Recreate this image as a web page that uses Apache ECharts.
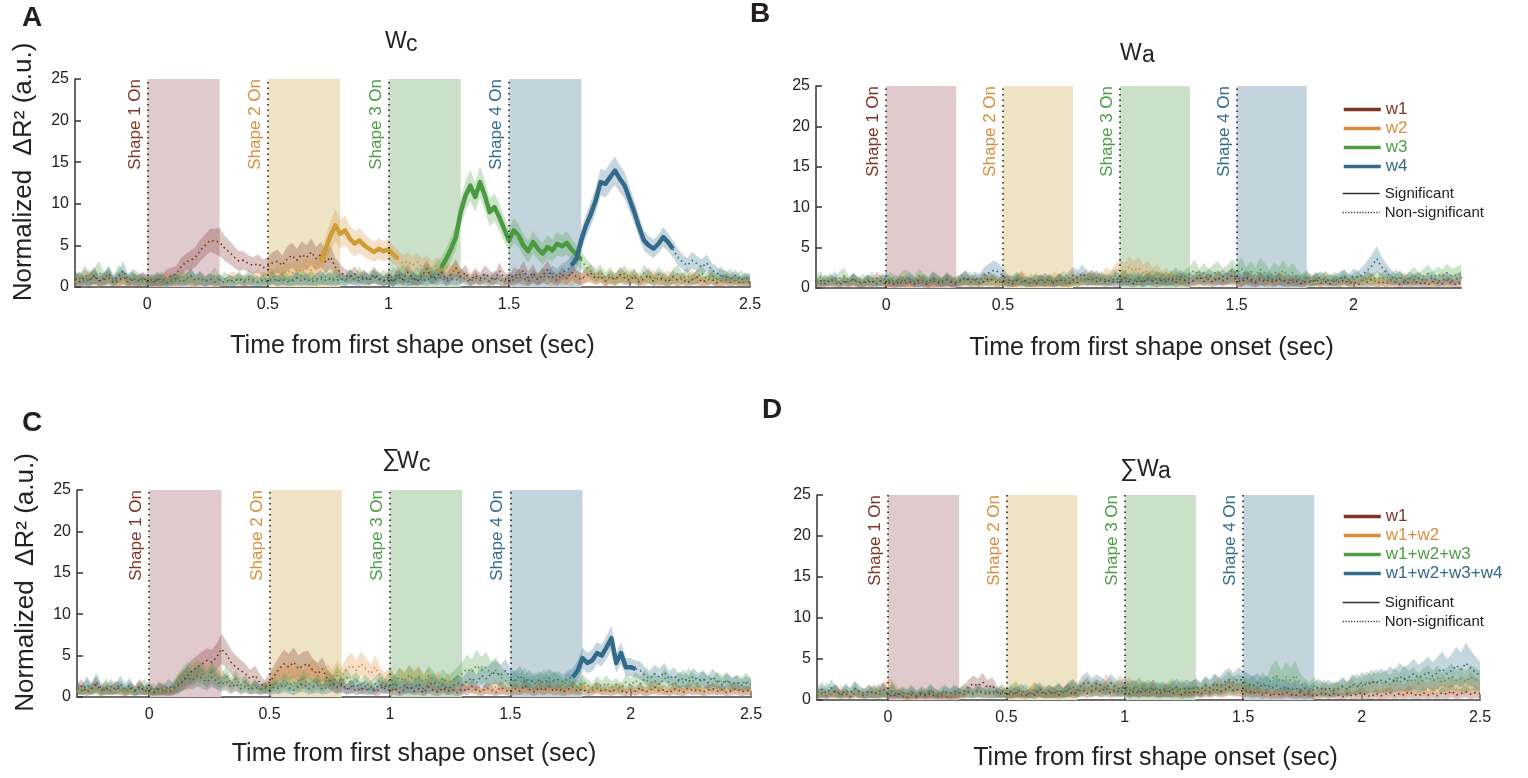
<!DOCTYPE html>
<html><head><meta charset="utf-8">
<script src="https://cdn.jsdelivr.net/npm/echarts@6/dist/echarts.min.js"></script>
<style>html,body{margin:0;padding:0;background:#fff}#c{width:1528px;height:778px}</style>
</head><body><div id="c"></div><script>
const FONT = '"Liberation Sans", Arial, Helvetica, sans-serif';
const COLORS = ['#7E3427','#D98E3C','#4E9C45','#346A8A'];
const SIG_COLORS = ['#7E3427','#CF9C36','#4A9A40','#336A8A'];
const SHAPE_FILL = ['#E0CACE','#EEE3C4','#CBE0C9','#C3D4DD'];
const SHAPE_ON = [0,0.5,1,1.5];
const SHAPE_DUR = 0.3;
const SHAPE_LABELS = ['Shape 1 On','Shape 2 On','Shape 3 On','Shape 4 On'];
const X_TICKS = [0,0.5,1,1.5,2,2.5];
const X_TICKS_B = [0,0.5,1,1.5,2];
const X_NAME = 'Time from first shape onset (sec)';
const Y_NAME = 'Normalized  \u0394R\u00B2 (a.u.)';
const LEGEND_AB = ['w1','w2','w3','w4'];
const LEGEND_CD = ['w1','w1+w2','w1+w2+w3','w1+w2+w3+w4'];
const LEGEND_SIG = ['Significant','Non-significant'];
// time axis: -0.30 .. 2.50 every 0.02 s
const T0 = -0.3, DT = 0.02, N = 141;
const TIME = Array.from({length:N}, (_, i) => +(T0 + DT*i).toFixed(2));

// ---------- Panel A (Wc) ----------
const A_w1 = [1.0,0.6,1.2,0.8,1.4,0.7,0.9,1.1,0.5,0.8, 1.2,0.6,0.9,0.7,1.0,0.8,0.5,0.9,0.7,1.2, 1.3,1.6,2.4,3.0,3.2,3.6,4.4,5.0,5.6,5.5, 5.4,4.7,4.2,3.6,3.1,3.2,2.8,2.6,2.8,2.3, 2.5,2.9,3.1,2.6,3.4,3.8,3.2,3.9,3.5,4.2, 3.4,3.9,3.0,3.6,2.4,1.8,1.4,1.2,1.6,1.0, 1.3,0.8,1.5,1.1,0.7,1.2,0.6,1.6,0.9,1.8, 1.1,0.7,1.4,2.2,1.0,1.3,1.8,0.9,1.5,2.3, 1.2,1.7,0.8,1.4,1.0,1.6,1.2,0.8,1.9,1.1, 0.7,1.5,1.3,2.0,1.1,1.7,0.9,1.4,2.1,1.2, 0.8,1.5,1.0,1.8,1.2,0.9,1.4,1.7,1.0,1.3, 0.7,1.2,0.9,1.5,1.1,0.8,1.3,0.6,1.0,1.4, 0.7,1.1,0.9,0.6,1.2,0.8,1.0,0.5,0.9,1.2, 0.6,0.8,1.0,0.5,0.7,0.9,0.6,0.8,0.5,0.7, 0.6];
const A_w1_sem = [0.8,0.7,0.9,0.8,1.0,0.7,0.8,0.9,0.6,0.8, 0.9,0.7,0.8,0.7,0.8,0.7,0.6,0.8,0.7,0.9, 1.0,0.9,1.1,1.0,1.2,1.2,1.3,1.3,1.4,1.5, 1.7,1.5,1.4,1.3,1.2,1.1,1.0,1.0,1.1,1.0, 1.1,1.3,1.4,1.2,1.5,1.5,1.4,1.6,1.5,1.6, 1.4,1.5,1.3,1.4,1.1,0.9,0.8,0.7,0.9,0.7, 0.8,0.6,0.9,0.7,0.6,0.8,0.6,0.9,0.7,1.0, 0.8,0.6,0.9,1.1,0.7,0.8,1.0,0.7,0.9,1.1, 0.8,1.0,0.7,0.9,0.7,1.0,0.8,0.7,1.0,0.8, 0.6,0.9,0.8,1.1,0.8,1.0,0.7,0.9,1.1,0.8, 0.7,0.9,0.8,1.0,0.8,0.7,0.9,1.0,0.7,0.8, 0.6,0.8,0.7,0.9,0.8,0.6,0.8,0.6,0.7,0.9, 0.6,0.8,0.7,0.6,0.8,0.7,0.7,0.5,0.7,0.8, 0.5,0.6,0.7,0.5,0.6,0.7,0.5,0.6,0.5,0.6, 0.5];
const A_w2 = [0.6,1.0,0.7,1.3,0.8,0.5,0.9,1.2,0.7,0.6, 1.0,0.8,0.5,0.9,0.7,0.6,0.9,0.5,0.8,1.1, 0.6,0.9,0.7,1.2,0.8,0.5,0.9,0.7,1.0,0.6, 0.8,0.5,0.9,1.1,0.7,0.9,0.6,1.0,1.3,0.8, 1.5,1.1,1.8,1.4,2.0,1.6,2.2,1.8,2.4,2.0, 2.4,3.0,4.6,6.2,7.4,6.4,6.8,5.8,5.2,5.6, 5.0,4.6,4.2,4.6,4.3,4.5,3.9,3.4,2.8,3.1, 2.6,3.0,2.4,2.8,2.2,2.6,2.0,2.4,1.7,2.1, 1.5,1.2,0.8,1.1,0.7,0.9,0.6,1.2,0.8,0.5, 1.0,0.7,1.3,0.9,0.6,1.1,0.8,1.4,0.9,0.6, 1.2,0.8,1.0,0.7,1.3,0.9,1.5,1.1,0.8,1.3, 0.7,1.0,0.6,1.2,0.9,1.4,0.8,1.1,0.6,1.0, 1.3,0.7,0.9,1.2,0.8,0.6,1.0,0.8,1.2,0.7, 0.9,0.5,1.1,0.8,0.6,1.0,0.7,0.9,0.6,0.8, 0.7];
const A_w2_sem = [0.7,0.8,0.6,0.9,0.7,0.5,0.7,0.8,0.6,0.6, 0.8,0.7,0.5,0.7,0.6,0.5,0.7,0.5,0.7,0.8, 0.6,0.7,0.6,0.8,0.7,0.5,0.7,0.6,0.7,0.6, 0.7,0.5,0.7,0.8,0.6,0.7,0.6,0.8,0.9,0.7, 1.0,0.8,1.1,0.9,1.1,1.0,1.2,1.1,1.3,1.2, 1.2,1.3,1.5,1.7,1.9,1.7,1.8,1.6,1.5,1.5, 1.4,1.3,1.2,1.3,1.2,1.2,1.1,1.1,1.0,1.1, 1.0,1.1,1.0,1.1,0.9,1.0,0.9,1.0,0.8,0.9, 0.8,0.7,0.6,0.7,0.6,0.7,0.5,0.7,0.6,0.5, 0.7,0.6,0.8,0.7,0.5,0.7,0.6,0.8,0.7,0.5, 0.8,0.6,0.7,0.6,0.8,0.7,0.9,0.7,0.6,0.8, 0.6,0.7,0.5,0.8,0.7,0.9,0.6,0.7,0.5,0.7, 0.8,0.6,0.7,0.8,0.6,0.5,0.7,0.6,0.8,0.6, 0.7,0.5,0.8,0.6,0.5,0.7,0.6,0.7,0.5,0.6, 0.6];
const A_w3 = [1.2,0.8,1.5,0.9,1.3,1.8,1.0,1.4,0.7,1.6, 1.1,0.8,1.3,1.0,0.7,0.9,0.6,1.1,0.8,0.5, 1.0,0.7,1.3,0.9,1.2,0.8,1.1,0.6,0.9,1.4, 0.7,1.0,0.8,0.6,1.1,0.7,1.2,0.9,0.6,1.0, 0.8,1.3,0.7,1.1,0.9,0.6,1.0,1.4,0.8,1.1, 0.7,0.9,1.2,0.8,1.3,1.0,0.7,1.2,0.9,1.5, 0.8,1.1,1.3,0.9,1.2,0.8,1.4,1.0,1.7,1.2, 0.9,1.5,1.1,1.8,1.3,2.0,2.4,3.4,4.6,6.0, 9.0,11.0,12.2,10.8,12.6,11.0,9.0,9.6,8.4,7.0, 5.6,6.8,6.2,5.0,4.3,5.4,4.6,4.0,4.8,4.4, 5.2,4.9,5.3,4.5,3.9,3.3,2.4,1.9,1.4,1.8, 1.1,1.5,0.9,1.3,1.6,1.0,1.4,0.8,1.7,1.2, 0.9,1.5,1.1,0.7,1.3,1.6,1.0,1.4,0.8,1.2, 1.7,1.0,1.4,0.9,1.5,1.1,1.3,0.8,1.2,0.9, 1.0];
const A_w3_sem = [0.9,0.7,1.1,0.8,1.0,1.3,0.8,1.0,0.6,1.1, 0.8,0.7,0.9,0.8,0.6,0.7,0.5,0.8,0.7,0.5, 0.8,0.6,0.9,0.7,0.9,0.7,0.8,0.5,0.7,1.0, 0.6,0.8,0.7,0.5,0.8,0.6,0.9,0.7,0.5,0.8, 0.7,0.9,0.6,0.8,0.7,0.5,0.8,1.0,0.7,0.8, 0.6,0.7,0.9,0.7,0.9,0.8,0.6,0.9,0.7,1.0, 0.7,0.8,0.9,0.7,0.9,0.7,1.0,0.8,1.1,0.9, 0.8,1.0,0.9,1.1,1.0,1.1,1.2,1.3,1.4,1.5, 1.7,1.8,1.9,1.8,1.9,1.8,1.7,1.7,1.6,1.5, 1.4,1.5,1.4,1.3,1.3,1.4,1.3,1.3,1.4,1.3, 1.4,1.3,1.4,1.3,1.2,1.1,1.0,0.9,0.8,0.9, 0.7,0.9,0.7,0.8,1.0,0.7,0.9,0.6,1.0,0.8, 0.7,0.9,0.8,0.6,0.9,1.0,0.7,0.9,0.6,0.8, 1.0,0.7,0.9,0.7,1.0,0.8,0.9,0.6,0.8,0.7, 0.7];
const A_w4 = [0.8,1.1,0.6,0.9,1.3,0.7,1.0,1.6,0.8,1.2, 2.0,0.9,1.1,0.7,1.0,0.6,0.9,0.7,1.1,0.5, 0.8,1.0,0.6,0.9,1.4,0.8,1.1,0.7,1.0,0.6, 0.9,0.5,0.8,0.7,1.0,0.6,0.9,0.7,0.5,0.8, 0.6,1.0,0.7,0.9,0.6,0.8,1.1,0.7,1.0,0.6, 0.9,1.2,0.8,1.1,0.7,1.0,0.8,1.3,0.9,0.7, 1.1,0.8,1.2,0.9,0.7,1.0,0.7,1.2,0.9,0.6, 1.1,0.8,1.0,0.7,1.3,0.9,1.2,0.7,1.0,0.8, 1.3,0.9,0.6,1.1,0.8,1.0,0.7,1.2,0.9,0.6, 1.1,0.8,1.3,1.0,0.7,1.2,0.9,1.4,1.1,1.6, 1.3,1.8,2.0,2.6,3.4,5.6,7.4,8.8,10.4,12.6, 12.4,13.2,14.0,13.0,12.2,10.6,9.0,7.2,5.6,5.0, 4.6,5.2,6.0,5.4,4.6,3.6,3.0,2.6,3.2,2.8, 2.4,2.9,2.1,1.7,1.4,1.2,1.0,1.4,0.8,1.1, 0.9];
const A_w4_sem = [0.6,0.8,0.5,0.7,0.9,0.6,0.7,1.0,0.6,0.8, 1.1,0.7,0.8,0.6,0.7,0.5,0.7,0.6,0.8,0.5, 0.6,0.7,0.5,0.7,0.9,0.6,0.8,0.6,0.7,0.5, 0.7,0.5,0.6,0.6,0.7,0.5,0.7,0.6,0.5,0.6, 0.5,0.7,0.6,0.7,0.5,0.6,0.8,0.6,0.7,0.5, 0.7,0.8,0.6,0.8,0.6,0.7,0.6,0.9,0.7,0.6, 0.8,0.6,0.8,0.7,0.6,0.7,0.6,0.8,0.7,0.5, 0.8,0.6,0.7,0.6,0.9,0.7,0.8,0.6,0.7,0.6, 0.9,0.7,0.5,0.8,0.6,0.7,0.6,0.8,0.7,0.5, 0.8,0.6,0.9,0.7,0.6,0.8,0.7,0.9,0.8,1.0, 0.9,1.0,1.1,1.1,1.2,1.3,1.4,1.5,1.5,1.6, 1.6,1.7,1.7,1.6,1.6,1.5,1.4,1.3,1.2,1.1, 1.1,1.1,1.2,1.1,1.0,1.0,0.9,0.9,1.0,0.9, 0.9,1.0,0.8,0.8,0.7,0.7,0.6,0.7,0.5,0.6, 0.5];
const A_SIG = [null, [0.72,1.04], [1.22,1.80], [1.76,2.18]];

// ---------- Panel B (Wa) ----------
const B_w1 = [0.6,0.9,0.5,1.0,0.7,0.4,0.8,0.6,1.1,0.7, 0.5,0.9,0.6,1.2,0.8,0.5,0.7,0.4,0.9,0.6, 0.8,0.5,1.0,0.7,0.4,0.9,0.6,0.8,1.1,0.7, 0.5,0.9,1.3,0.7,1.0,0.6,0.8,1.2,0.9,0.6, 1.0,0.7,0.5,0.9,1.2,0.6,0.8,0.5,1.0,0.7, 0.9,0.6,1.1,0.8,0.5,1.0,0.7,1.2,0.9,1.3, 0.8,1.1,0.7,1.0,0.6,0.9,1.3,0.8,0.5,1.0, 0.7,1.2,0.9,0.6,1.0,0.8,1.3,0.7,1.1,0.9, 0.6,1.0,1.4,0.8,1.1,0.7,1.3,0.9,1.2,1.5, 1.0,0.7,1.2,0.9,0.6,1.1,0.8,1.0,0.7,1.2, 0.9,0.6,1.0,0.8,0.5,0.9,0.7,1.1,0.6,0.8, 0.5,0.9,0.7,1.0,0.6,0.8,0.4,0.9,0.7,1.1, 0.6,0.8,0.5,1.0,0.7,0.4,0.8,0.6,0.9,0.5, 0.7,0.4,0.8,0.6,0.5,0.9,0.6,0.4,0.7,0.5, 0.6];
const B_w1_sem = [0.5,0.7,0.4,0.7,0.6,0.4,0.6,0.5,0.8,0.6, 0.4,0.7,0.5,0.8,0.6,0.4,0.6,0.4,0.7,0.5, 0.6,0.4,0.7,0.6,0.4,0.7,0.5,0.6,0.8,0.6, 0.5,0.7,0.9,0.6,0.7,0.5,0.6,0.8,0.7,0.5, 0.7,0.6,0.4,0.7,0.8,0.5,0.6,0.4,0.7,0.6, 0.7,0.5,0.8,0.6,0.4,0.7,0.6,0.8,0.7,0.9, 0.6,0.8,0.6,0.7,0.5,0.7,0.9,0.6,0.4,0.7, 0.6,0.8,0.7,0.5,0.7,0.6,0.9,0.6,0.8,0.7, 0.5,0.7,0.9,0.6,0.8,0.6,0.9,0.7,0.8,1.0, 0.7,0.6,0.8,0.7,0.5,0.8,0.6,0.7,0.6,0.8, 0.7,0.5,0.7,0.6,0.4,0.7,0.6,0.8,0.5,0.6, 0.4,0.7,0.6,0.7,0.5,0.6,0.4,0.7,0.6,0.8, 0.5,0.6,0.4,0.7,0.6,0.4,0.6,0.5,0.7,0.4, 0.6,0.4,0.6,0.5,0.4,0.7,0.5,0.4,0.6,0.4, 0.5];
const B_w2 = [0.7,0.4,0.9,0.6,0.8,0.5,1.0,0.7,0.4,0.8, 0.6,0.9,0.5,0.7,1.0,0.6,0.8,0.5,0.9,0.7, 0.5,0.8,0.6,1.0,0.7,0.4,0.9,0.6,0.8,0.5, 1.0,0.7,0.5,0.9,0.6,0.8,1.1,0.7,0.9,0.6, 1.2,0.8,1.0,0.7,1.3,0.9,0.6,1.1,0.8,1.0, 0.7,1.2,0.9,0.6,1.0,1.3,0.8,1.1,1.4,1.0, 1.3,0.9,1.6,1.2,1.8,2.4,1.9,2.6,2.1,2.5, 1.8,2.2,1.5,1.9,1.2,1.6,1.0,1.4,0.9,1.2, 0.8,1.1,0.7,1.3,0.9,1.0,1.4,0.8,1.2,0.9, 1.1,0.7,1.0,1.3,0.8,1.2,0.9,0.6,1.0,0.8, 1.2,0.7,0.9,0.6,1.0,0.8,1.1,0.7,0.9,1.2, 0.8,1.0,0.6,0.9,1.1,0.7,1.0,0.8,1.3,0.9, 0.7,1.1,0.8,0.6,1.0,0.9,1.2,0.7,0.9,1.1, 0.8,1.0,0.6,0.9,1.2,0.7,1.0,0.8,1.1,0.9, 0.8];
const B_w2_sem = [0.6,0.4,0.7,0.5,0.6,0.4,0.7,0.6,0.4,0.6, 0.5,0.7,0.4,0.6,0.7,0.5,0.6,0.4,0.7,0.6, 0.4,0.6,0.5,0.7,0.6,0.4,0.7,0.5,0.6,0.4, 0.7,0.6,0.4,0.7,0.5,0.6,0.8,0.6,0.7,0.5, 0.8,0.6,0.7,0.6,0.9,0.7,0.5,0.8,0.6,0.7, 0.6,0.8,0.7,0.5,0.7,0.9,0.6,0.8,1.0,0.7, 0.9,0.7,1.0,0.9,1.1,1.3,1.1,1.4,1.2,1.3, 1.1,1.2,1.0,1.1,0.8,1.0,0.7,0.9,0.7,0.8, 0.6,0.8,0.6,0.9,0.7,0.7,0.9,0.6,0.8,0.7, 0.8,0.6,0.7,0.9,0.6,0.8,0.7,0.5,0.7,0.6, 0.8,0.6,0.7,0.5,0.7,0.6,0.8,0.6,0.7,0.8, 0.6,0.7,0.5,0.7,0.8,0.6,0.7,0.6,0.9,0.7, 0.6,0.8,0.6,0.5,0.7,0.7,0.8,0.6,0.7,0.8, 0.6,0.7,0.5,0.7,0.8,0.6,0.7,0.6,0.8,0.7, 0.6];
const B_w3 = [0.9,1.3,0.7,1.1,0.8,1.2,1.5,0.9,1.1,0.7, 1.0,0.8,1.2,0.6,1.0,0.9,1.3,0.7,1.1,1.4, 1.2,0.9,1.5,1.1,0.8,1.3,1.0,0.7,1.2,0.9, 0.8,1.1,0.9,1.3,0.7,1.0,1.2,0.8,1.1,0.9, 0.7,1.0,0.8,1.2,0.9,0.6,1.1,0.8,1.0,0.7, 1.1,0.8,1.0,1.3,0.9,0.7,1.2,0.9,1.1,1.4, 1.0,1.3,0.9,1.2,1.5,1.1,1.4,1.0,1.3,0.9, 1.2,1.0,1.4,1.1,1.3,0.9,1.2,1.6,1.1,1.4, 1.7,2.2,1.5,1.9,1.4,1.8,2.0,1.5,1.7,2.2, 1.8,2.4,1.6,2.1,1.5,2.3,1.9,1.4,2.0,1.6, 2.2,1.5,1.9,1.3,1.1,1.4,0.9,1.2,1.0,1.3, 0.9,1.2,1.0,1.4,0.8,1.1,1.3,0.9,1.2,1.0, 1.3,1.1,1.5,1.0,1.4,1.2,0.9,1.3,1.6,1.1, 1.5,1.8,1.3,1.7,1.4,1.9,1.5,1.6,1.8,1.4, 1.5];
const B_w3_sem = [0.6,0.8,0.5,0.7,0.6,0.8,1.0,0.6,0.7,0.5, 0.7,0.6,0.8,0.5,0.7,0.6,0.8,0.5,0.7,0.9, 0.8,0.6,0.9,0.7,0.6,0.8,0.7,0.5,0.8,0.6, 0.6,0.7,0.6,0.8,0.5,0.7,0.8,0.6,0.7,0.6, 0.5,0.7,0.6,0.8,0.6,0.5,0.7,0.6,0.7,0.5, 0.7,0.6,0.7,0.8,0.6,0.5,0.8,0.6,0.7,0.9, 0.7,0.8,0.6,0.8,0.9,0.7,0.9,0.7,0.8,0.6, 0.8,0.7,0.9,0.7,0.8,0.6,0.8,1.0,0.7,0.9, 1.0,1.3,0.9,1.2,0.9,1.1,1.3,1.0,1.1,1.4, 1.1,1.4,1.0,1.3,1.0,1.4,1.2,0.9,1.2,1.0, 1.3,1.0,1.2,0.9,0.7,0.9,0.6,0.8,0.7,0.8, 0.6,0.8,0.7,0.9,0.6,0.7,0.8,0.6,0.8,0.7, 0.8,0.7,0.9,0.7,0.9,0.8,0.6,0.8,1.0,0.7, 0.9,1.1,0.8,1.0,0.9,1.1,0.9,1.0,1.1,0.9, 0.9];
const B_w4 = [0.8,0.5,1.0,0.7,1.3,0.6,0.9,0.7,1.1,0.8, 0.6,1.0,0.8,0.5,0.9,1.2,0.7,1.0,0.6,0.9, 1.1,0.8,0.6,1.0,0.7,1.2,0.9,0.6,1.0,0.8, 0.7,1.0,1.3,0.9,1.2,1.0,1.6,1.9,2.2,2.0, 1.5,1.0,0.8,1.1,0.7,0.9,0.6,1.0,0.8,1.1, 0.9,0.7,1.0,0.8,1.2,1.6,1.3,1.8,1.2,1.0, 1.3,0.9,1.1,0.8,1.2,1.0,0.7,1.1,0.9,1.2, 0.8,1.1,0.9,1.3,1.0,1.2,0.8,1.1,1.4,1.0, 1.2,0.9,1.3,1.1,1.5,1.2,1.0,1.4,1.1,1.6, 1.3,1.0,1.4,1.1,0.8,1.2,1.0,1.3,0.9,1.1, 0.8,1.1,0.7,1.0,0.9,1.2,0.8,1.0,1.3,0.9, 1.1,0.8,1.2,1.4,1.0,1.5,1.3,1.7,2.2,2.8, 3.6,2.6,1.9,1.4,1.1,1.3,0.9,1.2,1.0,1.3, 0.9,1.1,1.3,0.8,1.0,1.2,0.9,1.1,1.3,1.0, 1.0];
const B_w4_sem = [0.6,0.4,0.7,0.5,0.8,0.5,0.6,0.5,0.7,0.6, 0.5,0.7,0.6,0.4,0.6,0.8,0.5,0.7,0.5,0.6, 0.7,0.6,0.5,0.7,0.5,0.8,0.6,0.5,0.7,0.6, 0.5,0.7,0.9,0.6,0.8,0.7,1.0,1.1,1.2,1.1, 1.0,0.7,0.6,0.8,0.5,0.6,0.5,0.7,0.6,0.8, 0.6,0.5,0.7,0.6,0.8,1.0,0.9,1.1,0.8,0.7, 0.8,0.6,0.7,0.6,0.8,0.7,0.5,0.7,0.6,0.8, 0.6,0.7,0.6,0.8,0.7,0.8,0.6,0.7,0.9,0.7, 0.8,0.6,0.8,0.7,0.9,0.8,0.7,0.9,0.7,1.0, 0.8,0.7,0.9,0.7,0.6,0.8,0.7,0.8,0.6,0.7, 0.6,0.7,0.5,0.7,0.6,0.8,0.6,0.7,0.8,0.6, 0.7,0.6,0.8,0.9,0.7,0.9,0.8,1.0,1.2,1.4, 1.6,1.3,1.1,0.9,0.7,0.8,0.6,0.8,0.7,0.8, 0.6,0.7,0.8,0.6,0.7,0.8,0.6,0.7,0.8,0.7, 0.7];
const B_SIG = [null, null, null, null];

// ---------- Panel C (sum Wc) ----------
const C_w1 = [0.9,1.3,0.6,1.0,1.5,0.8,1.1,0.7,1.2,0.9, 0.6,1.0,0.8,1.3,0.7,0.9,0.5,1.1,0.8,0.6, 0.9,1.4,2.0,2.6,3.2,3.6,4.0,4.4,4.2,4.8, 5.8,5.2,4.2,3.6,3.2,2.8,2.2,2.6,1.7,1.2, 1.8,2.6,3.4,4.0,3.6,4.2,3.4,3.8,4.0,3.2, 2.8,3.4,2.2,1.8,1.2,1.6,0.9,1.3,0.7,1.1, 0.8,1.2,0.6,1.0,1.4,0.7,1.1,0.5,0.9,1.3, 0.7,1.0,0.5,1.2,0.8,0.6,1.1,0.7,0.9,0.5, 1.0,0.7,1.3,0.8,0.6,1.1,0.9,0.5,1.2,0.8, 0.6,1.0,0.7,1.4,0.9,0.6,1.1,0.8,1.3,0.7, 1.0,0.6,0.9,1.2,0.7,1.0,0.5,0.8,1.1,0.7, 0.9,0.6,1.0,0.8,0.5,0.9,0.7,1.1,0.6,0.8, 1.2,0.7,0.9,0.5,1.0,0.8,0.6,1.1,0.7,0.9, 0.6,0.8,1.0,0.7,0.9,0.5,0.8,1.0,0.6,0.8, 0.7];
const C_w1_sem = [0.7,0.9,0.5,0.7,1.0,0.6,0.8,0.5,0.8,0.7, 0.5,0.7,0.6,0.9,0.5,0.7,0.4,0.8,0.6,0.5, 0.7,1.0,1.2,1.3,1.4,1.4,1.5,1.5,1.5,1.6, 1.8,1.6,1.5,1.4,1.3,1.2,1.1,1.2,1.0,0.8, 1.1,1.3,1.5,1.7,1.6,1.8,1.6,1.7,1.6,1.4, 1.3,1.4,1.1,1.0,0.8,0.9,0.6,0.8,0.5,0.7, 0.6,0.8,0.5,0.7,0.9,0.5,0.8,0.4,0.6,0.8, 0.5,0.7,0.4,0.8,0.6,0.5,0.7,0.5,0.6,0.4, 0.7,0.5,0.8,0.6,0.5,0.7,0.6,0.4,0.8,0.6, 0.5,0.7,0.5,0.9,0.6,0.5,0.7,0.6,0.8,0.5, 0.7,0.5,0.6,0.8,0.5,0.7,0.4,0.6,0.7,0.5, 0.6,0.5,0.7,0.6,0.4,0.6,0.5,0.7,0.5,0.6, 0.8,0.5,0.6,0.4,0.7,0.6,0.5,0.7,0.5,0.6, 0.5,0.6,0.7,0.5,0.6,0.4,0.6,0.7,0.5,0.6, 0.5];
const C_w2 = [0.7,1.0,0.6,0.9,1.2,0.5,0.8,1.1,0.7,0.9, 0.6,0.8,0.5,1.0,0.7,0.9,0.6,0.8,1.1,0.7, 1.0,1.6,2.2,1.8,2.8,2.4,3.0,2.2,2.8,2.0, 2.4,1.6,1.2,1.8,1.0,1.4,0.9,1.2,0.8,1.0, 1.4,2.0,2.6,2.2,3.0,2.4,2.8,2.0,2.6,3.2, 2.6,2.0,2.8,2.2,3.0,2.4,3.4,3.8,3.2,4.0, 3.4,2.8,3.6,2.4,2.0,2.6,1.8,2.4,2.0,2.8, 2.2,2.6,1.8,2.4,1.6,2.2,1.4,2.0,1.2,1.8, 1.0,1.4,0.8,1.2,0.6,1.0,0.8,1.3,0.7,1.1, 0.8,1.2,0.9,0.6,1.1,0.8,1.3,1.0,0.7,1.2, 0.9,1.3,0.7,1.1,0.8,1.4,1.0,0.7,1.2,0.9, 0.6,1.0,0.8,1.2,0.7,1.0,0.5,0.9,0.7,1.1, 0.8,1.2,0.6,0.9,1.1,0.7,1.0,0.8,1.2,0.9, 0.7,1.0,0.8,1.1,0.6,0.9,1.2,0.8,1.0,0.7, 0.9];
const C_w2_sem = [0.5,0.7,0.4,0.6,0.8,0.4,0.6,0.7,0.5,0.6, 0.5,0.6,0.4,0.7,0.5,0.6,0.5,0.6,0.7,0.5, 0.7,1.0,1.2,1.1,1.4,1.2,1.4,1.2,1.3,1.1, 1.2,1.0,0.8,1.0,0.7,0.9,0.6,0.8,0.6,0.7, 0.9,1.1,1.3,1.2,1.4,1.2,1.3,1.1,1.3,1.4, 1.3,1.1,1.3,1.1,1.4,1.2,1.4,1.5,1.3,1.5, 1.4,1.2,1.4,1.1,1.0,1.2,0.9,1.1,1.0,1.2, 1.0,1.2,0.9,1.1,0.8,1.0,0.7,0.9,0.7,0.9, 0.6,0.8,0.5,0.7,0.4,0.6,0.5,0.8,0.5,0.7, 0.5,0.7,0.6,0.4,0.7,0.5,0.8,0.6,0.5,0.7, 0.6,0.8,0.5,0.7,0.5,0.8,0.6,0.5,0.7,0.6, 0.4,0.6,0.5,0.7,0.5,0.6,0.4,0.6,0.5,0.7, 0.5,0.7,0.4,0.6,0.7,0.5,0.6,0.5,0.7,0.6, 0.5,0.6,0.5,0.7,0.4,0.6,0.7,0.5,0.6,0.5, 0.6];
const C_w3 = [1.0,0.7,1.3,0.9,1.1,0.6,1.4,0.8,1.0,1.2, 0.8,1.1,0.6,0.9,1.3,0.7,1.0,0.5,0.9,0.7, 1.2,1.8,2.4,3.0,2.6,3.2,2.8,2.2,3.0,2.4, 1.8,2.6,1.6,2.2,1.4,1.8,1.0,1.4,0.8,1.2, 1.0,1.6,1.2,2.0,1.4,1.8,1.2,2.2,1.6,1.3, 1.8,1.2,2.2,1.6,2.6,1.9,2.4,1.6,2.0,1.4, 1.8,1.2,1.6,2.0,1.4,2.2,1.7,2.4,1.9,2.6, 2.0,2.4,1.8,2.6,2.1,1.6,2.3,1.8,2.0,2.4, 2.8,3.4,3.0,3.8,3.2,3.6,2.8,3.2,2.4,2.0, 1.6,2.2,1.8,2.4,1.5,2.0,1.7,2.3,1.6,2.1, 1.8,1.4,2.0,1.6,1.2,1.8,1.4,1.1,1.6,1.3, 1.7,1.2,1.5,1.0,1.8,1.4,2.0,1.6,2.2,1.7, 2.0,1.5,2.3,1.8,1.4,2.1,1.7,2.4,1.9,1.6, 2.2,1.8,1.5,2.1,1.7,2.0,1.4,1.8,1.6,1.9, 1.5];
const C_w3_sem = [0.7,0.5,0.9,0.6,0.8,0.5,0.9,0.6,0.7,0.8, 0.6,0.8,0.5,0.7,0.9,0.5,0.7,0.4,0.7,0.5, 0.8,1.0,1.2,1.3,1.2,1.3,1.2,1.0,1.3,1.1, 0.9,1.2,0.8,1.0,0.7,0.9,0.6,0.8,0.5,0.7, 0.6,0.9,0.7,1.0,0.8,0.9,0.7,1.1,0.9,0.8, 0.9,0.7,1.1,0.9,1.2,1.0,1.1,0.9,1.0,0.8, 0.9,0.7,0.9,1.0,0.8,1.1,0.9,1.2,1.0,1.2, 1.0,1.2,0.9,1.2,1.0,0.9,1.1,0.9,1.0,1.2, 1.4,1.7,1.6,1.9,1.7,1.8,1.5,1.6,1.3,1.1, 0.9,1.1,1.0,1.2,0.9,1.0,0.9,1.1,0.9,1.0, 0.9,0.8,1.0,0.9,0.7,0.9,0.8,0.6,0.9,0.7, 0.9,0.7,0.8,0.6,0.9,0.8,1.0,0.9,1.1,0.9, 1.0,0.8,1.1,0.9,0.8,1.0,0.9,1.1,1.0,0.8, 1.1,0.9,0.8,1.0,0.9,1.0,0.8,0.9,0.8,1.0, 0.8];
const C_w4 = [1.2,0.8,1.5,1.0,1.8,1.1,0.7,1.3,0.9,1.6, 1.0,1.4,0.7,1.1,0.8,1.2,0.6,1.0,0.8,1.3, 1.0,1.5,1.9,2.4,2.0,2.6,2.2,1.8,2.4,1.9, 1.5,1.9,1.2,1.6,1.0,1.3,0.8,1.2,0.9,1.1, 0.8,1.2,1.0,1.5,1.1,0.8,1.3,1.6,1.0,1.2, 1.4,0.9,1.2,1.6,1.1,1.4,0.9,1.2,1.5,1.0, 1.3,0.8,1.1,1.5,1.0,1.3,1.7,1.1,1.4,0.9, 1.2,1.6,1.0,1.4,1.8,1.2,1.5,1.0,1.3,1.7, 1.4,1.9,2.3,1.7,2.6,2.2,2.8,3.0,2.6,3.2, 2.4,2.0,2.6,1.8,2.2,1.6,2.1,1.7,2.3,1.9, 2.1,1.8,2.2,2.4,3.2,4.7,4.1,4.4,5.3,5.0, 6.0,7.1,4.1,5.3,3.6,3.6,3.4,3.2,2.6,2.2, 2.8,2.4,3.0,2.2,2.6,1.9,2.3,1.8,2.5,2.0, 2.2,1.7,2.4,1.9,1.5,2.0,1.6,1.8,1.4,1.7, 1.5];
const C_w4_sem = [0.8,0.6,1.0,0.7,1.1,0.7,0.5,0.9,0.6,1.0, 0.7,0.9,0.5,0.8,0.6,0.8,0.4,0.7,0.6,0.9, 0.7,1.0,1.1,1.3,1.1,1.3,1.2,1.0,1.2,1.0, 0.9,1.0,0.8,0.9,0.7,0.8,0.5,0.8,0.6,0.7, 0.6,0.8,0.7,0.9,0.7,0.6,0.8,1.0,0.7,0.8, 0.9,0.6,0.8,1.0,0.7,0.9,0.6,0.8,0.9,0.7, 0.8,0.6,0.7,0.9,0.7,0.8,1.0,0.7,0.9,0.6, 0.8,1.0,0.7,0.9,1.1,0.8,0.9,0.7,0.8,1.0, 0.9,1.1,1.2,1.0,1.3,1.2,1.3,1.4,1.3,1.4, 1.2,1.0,1.2,0.9,1.1,0.9,1.0,0.9,1.1,1.0, 1.0,0.9,1.0,1.1,1.2,1.3,1.2,1.3,1.3,1.3, 1.4,1.5,1.2,1.3,1.1,1.1,1.0,1.1,1.0,1.0, 1.1,1.0,1.1,0.9,1.0,0.9,1.0,0.8,1.0,0.9, 0.9,0.8,1.0,0.9,0.7,0.9,0.8,0.8,0.7,0.8, 0.7];
const C_SIG = [null, null, null, [1.76,2.02]];

// ---------- Panel D (sum Wa) ----------
const D_w1 = [0.6,0.9,0.5,0.8,1.1,0.6,0.8,0.4,0.9,0.7, 0.5,0.8,1.0,0.6,1.2,0.7,0.4,0.8,0.5,0.3, 0.6,0.4,0.7,0.5,0.8,0.4,0.6,0.5,0.3,0.6, 0.8,1.0,1.6,2.0,1.7,2.2,1.5,1.8,1.0,0.7, 0.9,0.6,1.0,0.7,0.5,0.9,0.6,1.1,0.7,0.8, 1.0,0.6,0.9,1.2,0.7,1.0,1.3,0.8,1.1,1.4, 1.0,1.5,0.8,1.2,0.9,1.3,0.7,1.1,0.8,1.2, 0.9,1.3,0.7,1.0,1.2,0.8,1.1,0.6,1.0,0.8, 1.1,0.7,1.2,0.9,1.4,1.0,1.2,1.6,1.1,1.3, 1.0,1.2,0.8,1.1,0.6,0.9,0.5,0.8,0.6,1.0, 0.7,0.5,0.9,0.6,0.8,0.4,0.7,0.9,0.5,0.8, 0.6,0.4,0.8,0.5,0.7,0.9,0.6,0.4,0.8,0.5, 0.7,0.9,0.5,0.8,0.6,1.0,0.7,0.5,0.9,0.6, 0.8,0.5,0.9,0.7,1.1,0.6,0.8,1.0,0.7,0.9, 0.8];
const D_w1_sem = [0.5,0.7,0.4,0.6,0.8,0.5,0.6,0.3,0.7,0.5, 0.4,0.6,0.8,0.5,0.9,0.5,0.3,0.6,0.4,0.3, 0.5,0.3,0.5,0.4,0.6,0.3,0.5,0.4,0.3,0.5, 0.6,0.7,0.9,1.0,0.9,1.1,0.9,1.0,0.7,0.5, 0.6,0.5,0.7,0.5,0.4,0.6,0.5,0.7,0.5,0.6, 0.7,0.5,0.6,0.8,0.5,0.7,0.8,0.6,0.7,0.9, 0.7,0.9,0.6,0.8,0.6,0.8,0.5,0.7,0.6,0.8, 0.6,0.8,0.5,0.7,0.8,0.6,0.7,0.5,0.7,0.6, 0.7,0.5,0.8,0.6,0.9,0.7,0.8,1.0,0.7,0.8, 0.7,0.8,0.6,0.7,0.5,0.6,0.4,0.6,0.5,0.7, 0.5,0.4,0.7,0.5,0.6,0.4,0.6,0.7,0.4,0.6, 0.5,0.4,0.6,0.4,0.6,0.7,0.5,0.4,0.6,0.5, 0.6,0.7,0.5,0.6,0.5,0.8,0.6,0.5,0.7,0.5, 0.6,0.5,0.7,0.6,0.8,0.5,0.6,0.7,0.6,0.7, 0.6];
const D_w2 = [0.7,1.0,0.6,0.9,0.5,1.1,0.8,0.6,1.0,0.7, 0.9,0.6,1.1,0.8,1.2,1.6,1.4,1.0,0.7,0.5, 0.4,0.7,0.5,0.8,0.6,0.9,0.5,0.7,0.4,0.6, 0.8,0.5,0.9,0.7,1.0,0.6,0.8,0.5,0.9,0.7, 1.0,0.7,1.2,0.8,0.6,1.0,1.3,0.9,1.1,0.7, 1.0,1.3,0.9,1.2,1.5,1.1,1.4,1.8,1.3,1.6, 1.4,2.0,1.6,1.3,1.9,1.5,1.8,1.2,1.6,1.3, 1.1,1.5,0.9,1.3,1.0,1.4,0.8,1.2,0.9,1.1, 1.3,1.0,1.5,1.1,1.4,1.7,1.2,1.5,1.8,1.3, 1.6,1.1,1.4,0.9,1.2,0.8,1.1,0.7,1.0,0.8, 0.9,1.2,0.7,1.0,0.8,1.1,0.9,1.3,1.0,1.2, 1.4,1.0,1.3,1.6,1.1,1.5,1.2,1.7,1.3,1.0, 1.5,1.2,1.8,1.4,1.1,1.6,1.3,1.9,1.5,1.2, 1.7,1.4,2.0,1.5,1.8,1.3,1.9,1.6,2.1,1.7, 1.5];
const D_w2_sem = [0.5,0.7,0.4,0.6,0.4,0.8,0.6,0.4,0.7,0.5, 0.6,0.4,0.8,0.6,0.9,1.1,1.0,0.7,0.5,0.4, 0.3,0.5,0.4,0.6,0.4,0.6,0.4,0.5,0.3,0.4, 0.6,0.4,0.6,0.5,0.7,0.4,0.6,0.4,0.6,0.5, 0.7,0.5,0.8,0.6,0.4,0.7,0.9,0.6,0.8,0.5, 0.7,0.9,0.6,0.8,1.0,0.8,0.9,1.1,0.9,1.0, 0.9,1.2,1.0,0.9,1.2,1.0,1.1,0.8,1.0,0.9, 0.8,1.0,0.6,0.9,0.7,0.9,0.6,0.8,0.6,0.8, 0.9,0.7,1.0,0.8,0.9,1.1,0.8,1.0,1.1,0.9, 1.0,0.8,0.9,0.6,0.8,0.6,0.8,0.5,0.7,0.6, 0.6,0.8,0.5,0.7,0.6,0.8,0.6,0.9,0.7,0.8, 0.9,0.7,0.9,1.0,0.8,1.0,0.8,1.1,0.9,0.7, 1.0,0.8,1.1,0.9,0.8,1.0,0.9,1.2,1.0,0.8, 1.1,0.9,1.2,1.0,1.1,0.9,1.2,1.0,1.3,1.1, 1.0];
const D_w3 = [1.0,0.7,1.3,0.9,1.2,0.6,1.1,0.8,1.4,0.9, 0.7,1.1,0.8,1.2,0.6,0.9,1.3,0.7,1.0,0.8, 1.1,0.7,1.0,0.8,1.2,0.6,0.9,1.1,0.7,1.0, 0.8,1.2,0.9,0.6,1.0,0.8,1.1,0.7,0.9,1.2, 0.8,1.1,1.4,0.9,1.2,0.8,1.3,1.0,0.7,1.1, 0.9,1.2,0.8,1.1,1.4,1.0,1.3,1.6,1.2,1.5, 1.3,1.0,1.4,1.2,1.6,1.1,1.5,1.3,1.7,1.2, 1.5,1.1,1.4,1.0,1.3,1.6,1.2,1.5,1.1,1.4, 1.6,1.2,1.8,1.4,2.0,1.5,1.8,2.2,1.7,2.0, 1.8,1.5,1.9,1.4,2.1,1.7,2.6,3.0,2.2,2.8, 2.4,3.0,2.0,1.6,1.3,1.7,1.2,1.5,1.1,1.4, 1.2,1.6,1.3,1.8,2.0,1.6,2.2,1.9,2.4,2.0, 2.3,1.9,2.5,2.1,2.7,2.2,2.6,2.0,2.4,2.8, 2.3,2.7,2.1,2.5,2.9,2.4,2.6,2.2,2.8,2.5, 2.3];
const D_w3_sem = [0.7,0.5,0.9,0.6,0.8,0.4,0.8,0.6,0.9,0.6, 0.5,0.8,0.6,0.8,0.4,0.6,0.9,0.5,0.7,0.6, 0.8,0.5,0.7,0.6,0.8,0.4,0.6,0.8,0.5,0.7, 0.6,0.8,0.6,0.4,0.7,0.6,0.8,0.5,0.6,0.8, 0.6,0.8,0.9,0.6,0.8,0.6,0.9,0.7,0.5,0.8, 0.6,0.8,0.6,0.8,0.9,0.7,0.9,1.0,0.8,1.0, 0.9,0.7,0.9,0.8,1.0,0.8,1.0,0.9,1.1,0.8, 1.0,0.8,0.9,0.7,0.9,1.0,0.8,1.0,0.8,0.9, 1.0,0.8,1.1,0.9,1.2,1.0,1.1,1.3,1.1,1.2, 1.1,1.0,1.2,0.9,1.3,1.1,1.6,1.9,1.4,1.8, 1.5,1.8,1.3,1.0,0.9,1.1,0.8,1.0,0.8,0.9, 0.8,1.0,0.9,1.1,1.2,1.0,1.3,1.1,1.4,1.2, 1.3,1.1,1.4,1.2,1.5,1.3,1.4,1.2,1.4,1.5, 1.3,1.5,1.2,1.4,1.6,1.3,1.5,1.3,1.5,1.4, 1.3];
const D_w4 = [0.9,1.3,0.8,1.5,1.0,0.7,1.2,0.9,1.4,1.0, 0.8,1.1,0.7,1.0,1.3,0.8,1.1,0.6,0.9,0.7, 1.0,0.6,0.9,0.7,1.1,0.8,0.6,1.0,0.8,1.1, 0.9,0.7,1.0,0.8,1.2,0.9,0.7,1.1,0.8,1.0, 0.7,1.0,0.8,1.2,0.9,0.6,1.0,1.3,0.9,1.1, 0.8,1.2,0.9,1.3,1.6,1.2,1.9,2.2,1.7,2.0, 1.8,1.4,2.1,1.6,1.3,1.7,1.2,1.5,1.1,1.4, 1.2,1.5,1.1,1.4,1.0,1.3,1.6,1.2,1.5,1.3, 1.6,1.3,1.8,1.5,2.0,1.7,2.2,2.5,2.1,2.6, 2.3,2.0,1.7,2.1,1.6,1.9,1.4,1.8,1.3,1.6, 1.2,1.5,1.1,1.4,1.0,1.3,1.6,1.2,1.5,1.1, 1.4,1.7,1.3,1.9,1.6,2.1,1.8,2.3,2.0,2.4, 2.2,2.6,2.3,2.9,2.5,2.8,3.2,2.7,3.0,3.4, 2.9,3.3,3.8,3.2,3.6,4.2,3.7,4.5,3.9,3.4, 3.0];
const D_w4_sem = [0.7,0.9,0.6,1.0,0.7,0.5,0.8,0.6,0.9,0.7, 0.6,0.8,0.5,0.7,0.9,0.6,0.8,0.4,0.6,0.5, 0.7,0.4,0.6,0.5,0.8,0.6,0.4,0.7,0.6,0.8, 0.6,0.5,0.7,0.6,0.8,0.6,0.5,0.8,0.6,0.7, 0.5,0.7,0.6,0.8,0.6,0.4,0.7,0.9,0.6,0.8, 0.6,0.8,0.6,0.9,1.0,0.8,1.1,1.2,1.0,1.1, 1.0,0.9,1.1,1.0,0.9,1.0,0.8,1.0,0.8,0.9, 0.8,1.0,0.8,0.9,0.7,0.9,1.0,0.8,1.0,0.9, 1.0,0.9,1.1,1.0,1.2,1.1,1.3,1.4,1.2,1.4, 1.3,1.2,1.1,1.2,1.0,1.1,0.9,1.1,0.9,1.0, 0.8,1.0,0.8,0.9,0.7,0.9,1.0,0.8,1.0,0.8, 0.9,1.1,0.9,1.2,1.0,1.3,1.1,1.4,1.2,1.4, 1.3,1.5,1.4,1.6,1.5,1.6,1.8,1.6,1.7,1.9, 1.7,1.9,2.1,1.8,2.0,2.3,2.1,2.5,2.2,1.9, 1.7];
const D_SIG = [null, null, null, null];

const PANELS = [
  {grid:{left:75, top:79, width:675, height:208}, xmax:2.5, ticks:X_TICKS, yname:true, xGap:47, xPad:[0,0,0,0],
   means:[A_w1,A_w2,A_w3,A_w4], sems:[A_w1_sem,A_w2_sem,A_w3_sem,A_w4_sem], sig:A_SIG},
  {grid:{left:816, top:86, width:645, height:202}, xmax:2.46, ticks:X_TICKS_B, yname:false, xGap:48, xPad:[0,0,0,26],
   means:[B_w1,B_w2,B_w3,B_w4], sems:[B_w1_sem,B_w2_sem,B_w3_sem,B_w4_sem], sig:B_SIG},
  {grid:{left:77, top:490, width:674, height:207}, xmax:2.5, ticks:X_TICKS, yname:true, xGap:45, xPad:[0,0,0,0],
   means:[C_w1,C_w2,C_w3,C_w4], sems:[C_w1_sem,C_w2_sem,C_w3_sem,C_w4_sem], sig:C_SIG},
  {grid:{left:817, top:495, width:663, height:205}, xmax:2.5, ticks:X_TICKS, yname:false, xGap:46, xPad:[0,0,0,14],
   means:[D_w1,D_w2,D_w3,D_w4], sems:[D_w1_sem,D_w2_sem,D_w3_sem,D_w4_sem], sig:D_SIG}
];

function inSig(t, r) { return !!r && t >= r[0] - 1e-6 && t <= r[1] + 1e-6; }
function rgba(hex, a) {
  const n = parseInt(hex.slice(1), 16);
  return 'rgba(' + ((n>>16)&255) + ',' + ((n>>8)&255) + ',' + (n&255) + ',' + a + ')';
}

const grids = [], xAxes = [], yAxes = [], series = [];
PANELS.forEach((p, g) => {
  grids.push(Object.assign({containLabel:false, outerBoundsMode:'none'}, p.grid));
  xAxes.push({gridIndex:g, type:'value', min:-0.3, max:p.xmax,
    name:X_NAME, nameLocation:'middle', nameGap:p.xGap,
    nameTextStyle:{fontSize:25, color:'#222', fontFamily:FONT, padding:p.xPad},
    axisLine:{show:true, onZero:false, lineStyle:{color:'#707070', width:2}},
    axisTick:{show:true, inside:true, length:6, customValues:p.ticks, lineStyle:{color:'#707070', width:1.5}},
    axisLabel:{show:true, customValues:p.ticks, fontSize:16, color:'#222', margin:10, fontFamily:FONT},
    splitLine:{show:false}});
  yAxes.push({gridIndex:g, type:'value', min:0, max:25, interval:5,
    name:p.yname ? Y_NAME : '', nameLocation:'middle', nameRotate:90, nameGap:38,
    nameTextStyle:{fontSize:26, color:'#222', fontFamily:FONT, padding:[0,0,0,22]},
    axisLine:{show:true, onZero:false, lineStyle:{color:'#333', width:1.5}},
    axisTick:{show:true, inside:true, length:6, lineStyle:{color:'#333', width:1.5}},
    axisLabel:{fontSize:16, color:'#222', margin:6, fontFamily:FONT},
    splitLine:{show:false}});
  // shape-presentation shading
  series.push({type:'line', name:'shapes'+g, xAxisIndex:g, yAxisIndex:g, data:[], z:1, silent:true,
    markArea:{silent:true, data:SHAPE_ON.map((s,k)=>[{xAxis:s, yAxis:0, itemStyle:{color:SHAPE_FILL[k], opacity:1}}, {xAxis:s+SHAPE_DUR, yAxis:25}])}});
  // error bands (mean +/- sem, floored at 0), drawn through the axis scales
  p.means.forEach((m, k) => {
    const s = p.sems[k];
    const rows = TIME.map((t,i) => [t, Math.max(0, m[i] - s[i]), m[i] + s[i]]);
    const fill = rgba(COLORS[k], 0.28);
    series.push({type:'custom', name:'band'+g+k, xAxisIndex:g, yAxisIndex:g, coordinateSystem:'cartesian2d',
      clip:true, silent:true, z:2, data:rows, encode:{x:0, y:[1,2]},
      renderItem: function (params, api) {
        if (params.dataIndex !== 0) return null;
        const up = [], dn = [];
        for (let i = 0; i < rows.length; i++) {
          up.push(api.coord([rows[i][0], rows[i][2]]));
          dn.push(api.coord([rows[i][0], rows[i][1]]));
        }
        return {type:'polygon', shape:{points:up.concat(dn.reverse())}, style:{fill:fill, stroke:null}};
      }});
  });
  // non-significant (dotted) and significant (solid) mean traces
  p.means.forEach((m, k) => {
    const r = p.sig[k];
    const inn = TIME.map(t => inSig(t, r));
    const dotted = TIME.map((t,i) => [t, (!inn[i] || (i>0 && !inn[i-1]) || (i<N-1 && !inn[i+1])) ? m[i] : null]);
    series.push({type:'line', name:'ns'+g+k, xAxisIndex:g, yAxisIndex:g, data:dotted, symbol:'none', silent:true, z:3,
      lineStyle:{color:COLORS[k], width:1.6, type:[1.6,3.2]}});
    if (r) {
      const solid = TIME.map((t,i) => [t, inn[i] ? m[i] : null]);
      series.push({type:'line', name:'sg'+g+k, xAxisIndex:g, yAxisIndex:g, data:solid, symbol:'none', silent:true, z:4,
        lineStyle:{color:SIG_COLORS[k], width:4.5, join:'round'}});
    }
  });
  // onset lines
  series.push({type:'line', name:'onsets'+g, xAxisIndex:g, yAxisIndex:g, data:[], z:5, silent:true,
    markLine:{silent:true, symbol:'none', animation:false,
      data:SHAPE_ON.map((s,k)=>[
        {coord:[s,0], lineStyle:{color:'#222', width:1.6, type:[1.5,4]},
         label:{show:true, formatter:SHAPE_LABELS[k], position:'insideEndTop', color:COLORS[k], fontSize:17, fontFamily:FONT, distance:[0,4]}},
        {coord:[s,25]}])}});
});

// legend carrier series
const legendSeries = [];
['w1','w2','w3','w4'].forEach((n,k)=>legendSeries.push({type:'line', name:n, xAxisIndex:1, yAxisIndex:1, data:[], symbol:'none', lineStyle:{color:COLORS[k], width:3.5}, itemStyle:{color:COLORS[k], opacity:0}}));
['w1+w2','w1+w2+w3','w1+w2+w3+w4'].forEach((n,k)=>legendSeries.push({type:'line', name:n, xAxisIndex:3, yAxisIndex:3, data:[], symbol:'none', lineStyle:{color:COLORS[k+1], width:3.5}, itemStyle:{color:COLORS[k+1], opacity:0}}));
legendSeries.push({type:'line', name:'Significant', xAxisIndex:1, yAxisIndex:1, data:[], symbol:'none', lineStyle:{color:'#333', width:1.5}, itemStyle:{color:'#333', opacity:0}});
legendSeries.push({type:'line', name:'Non-significant', xAxisIndex:1, yAxisIndex:1, data:[], symbol:'none', lineStyle:{color:'#333', width:1.2, type:[1.2,1.6]}, itemStyle:{color:'#333', opacity:0}});

const legBase = {orient:'vertical', itemWidth:37, itemHeight:12, selectedMode:false, padding:0, itemStyle:{opacity:0}};
const legends = [
  Object.assign({}, legBase, {left:1342, top:101, itemGap:2, lineStyle:{width:3.5}, textStyle:{fontSize:17, fontFamily:FONT},
    data:LEGEND_AB.map((n,k)=>({name:n, textStyle:{color:COLORS[k]}}))}),
  Object.assign({}, legBase, {left:1342, top:186, itemGap:4, lineStyle:{width:1.4}, textStyle:{fontSize:15, color:'#222', fontFamily:FONT}, data:LEGEND_SIG}),
  Object.assign({}, legBase, {left:1342, top:508, itemGap:2, lineStyle:{width:3.5}, textStyle:{fontSize:17, fontFamily:FONT},
    data:LEGEND_CD.map((n,k)=>({name:n, textStyle:{color:COLORS[k]}}))}),
  Object.assign({}, legBase, {left:1342, top:595, itemGap:4, lineStyle:{width:1.4}, textStyle:{fontSize:15, color:'#222', fontFamily:FONT}, data:LEGEND_SIG})
];

function txt(text, x, y, size, opts) {
  return {type:'text', x:x, y:y, silent:true,
    style:{text:text, font:(opts&&opts.bold?'bold ':'') + size + 'px ' + FONT, fill:(opts&&opts.fill)||'#231f20', align:'left', verticalAlign:'middle'}};
}
const graphics = [
  txt('A', 22, 18, 28, {bold:true}), txt('B', 750, 14, 28, {bold:true}),
  txt('C', 22, 423, 28, {bold:true}), txt('D', 762, 410, 28, {bold:true}),
  txt('W', 385, 41.5, 23), txt('c', 406, 44.5, 23),
  txt('W', 1120, 53.5, 23), txt('a', 1142, 56, 23),
  txt('\u2211', 382, 459.5, 25), txt('W', 397, 461.5, 23), txt('c', 419, 464.5, 23),
  txt('\u2211', 1120, 469.5, 25), txt('W', 1137, 469.5, 23), txt('a', 1158, 472, 23)
];

const chart = echarts.init(document.getElementById('c'), null, {renderer:'canvas'});
chart.setOption({
  animation:false, backgroundColor:'#fff',
  textStyle:{fontFamily:FONT},
  grid:grids, xAxis:xAxes, yAxis:yAxes, legend:legends,
  series:series.concat(legendSeries),
  graphic:graphics
});
</script></body></html>
